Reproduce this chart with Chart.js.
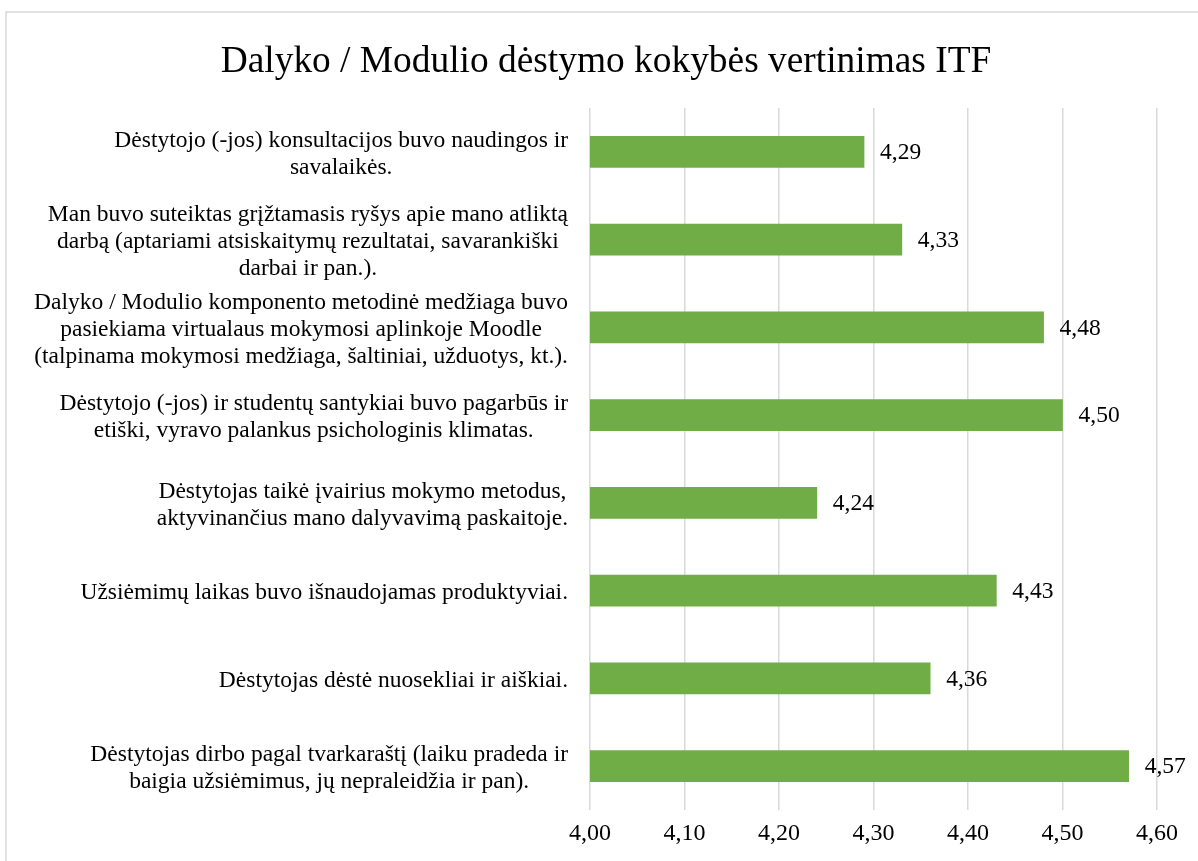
<!DOCTYPE html>
<html>
<head>
  <title>Dalyko / Modulio dėstymo kokybės vertinimas ITF</title>
  <style>
    html, body {
      margin: 0;
      padding: 0;
      background: #ffffff;
    }
    #chart-box {
      width: 1198px;
      height: 861px;
    }
  </style>
  <script src="https://cdn.jsdelivr.net/npm/chart.js"></script>
</head>
<body>
  <div id="chart-box"><canvas id="chart"></canvas></div>

  <script>
    // Klausimai (kategorijos), po eilutę kiekvienai teksto eilutei
    const klausimai = [
      ['Dėstytojo (-jos) konsultacijos buvo naudingos ir', 'savalaikės.'],
      ['Man buvo suteiktas grįžtamasis ryšys apie mano atliktą', 'darbą (aptariami atsiskaitymų rezultatai, savarankiški', 'darbai ir pan.).'],
      ['Dalyko / Modulio komponento metodinė medžiaga buvo', 'pasiekiama virtualaus mokymosi aplinkoje Moodle', '(talpinama mokymosi medžiaga, šaltiniai, užduotys, kt.).'],
      ['Dėstytojo (-jos) ir studentų santykiai buvo pagarbūs ir', 'etiški, vyravo palankus psichologinis klimatas.'],
      ['Dėstytojas taikė įvairius mokymo metodus,', 'aktyvinančius mano dalyvavimą paskaitoje.'],
      ['Užsiėmimų laikas buvo išnaudojamas produktyviai.'],
      ['Dėstytojas dėstė nuosekliai ir aiškiai.'],
      ['Dėstytojas dirbo pagal tvarkaraštį (laiku pradeda ir', 'baigia užsiėmimus, jų nepraleidžia ir pan).']
    ];
    const vertinimai = [4.29, 4.33, 4.48, 4.50, 4.24, 4.43, 4.36, 4.57];
    const asiesMin = 4.00;
    const asiesMax = 4.60;
    const asiesZingsnis = 0.10;
    const antraste = 'Dalyko / Modulio dėstymo kokybės vertinimas ITF';

    const serif = "'Liberation Serif', 'Times New Roman', serif";

    function kablelis(v) {
      return Number(v).toFixed(2).replace('.', ',');
    }

    // pilkas rėmelis ir antraštė
    const remelis = {
      id: 'remelis',
      beforeDraw(chart) {
        const ctx = chart.ctx;
        ctx.save();
        ctx.strokeStyle = '#d9d9d9';
        ctx.lineWidth = 1.5;
        ctx.strokeRect(6, 12, 1300, 1000);
        ctx.font = '37.4px ' + serif;
        ctx.fillStyle = '#000000';
        ctx.textAlign = 'center';
        ctx.textBaseline = 'middle';
        ctx.fillText(antraste, 606, 62);
        ctx.restore();
      }
    };

    // kategorijų pavadinimai: kiekviena eilutė centruota savo bloke
    const pavadinimai = {
      id: 'pavadinimai',
      afterDraw(chart) {
        const ctx = chart.ctx;
        const y = chart.scales.y;
        const right = chart.chartArea.left - 22;
        const lh = 27;
        ctx.save();
        ctx.font = '23.5px ' + serif;
        ctx.fillStyle = '#000000';
        ctx.textAlign = 'center';
        ctx.textBaseline = 'middle';
        chart.data.labels.forEach((eil, i) => {
          const cy = y.getPixelForTick(i);
          const maxW = Math.max(...eil.map(t => ctx.measureText(t).width));
          const cx = right - maxW / 2;
          eil.forEach((t, j) => {
            ctx.fillText(t, cx, cy + 2 + (j - (eil.length - 1) / 2) * lh);
          });
        });
        ctx.restore();
      }
    };

    // reikšmės šalia stulpelių
    const reiksmes = {
      id: 'reiksmes',
      afterDatasetsDraw(chart) {
        const ctx = chart.ctx;
        const meta = chart.getDatasetMeta(0);
        ctx.save();
        ctx.font = '23.5px ' + serif;
        ctx.fillStyle = '#000000';
        ctx.textAlign = 'left';
        ctx.textBaseline = 'middle';
        meta.data.forEach((bar, i) => {
          ctx.fillText(kablelis(chart.data.datasets[0].data[i]), bar.x + 16, bar.y + 1);
        });
        ctx.restore();
      }
    };

    document.addEventListener('DOMContentLoaded', function () {
      const ctx = document.getElementById('chart').getContext('2d');
      new Chart(ctx, {
        type: 'bar',
        data: {
          labels: klausimai,
          datasets: [{
            data: vertinimai,
            backgroundColor: '#70ad47',
            borderWidth: 0,
            barThickness: 31
          }]
        },
        options: {
          indexAxis: 'y',
          responsive: true,
          maintainAspectRatio: false,
          animation: false,
          layout: {
            padding: { left: 0, right: 41, top: 108, bottom: 0 }
          },
          plugins: {
            legend: { display: false },
            tooltip: { enabled: false },
            title: { display: false }
          },
          scales: {
            x: {
              min: asiesMin,
              max: asiesMax,
              ticks: {
                stepSize: asiesZingsnis,
                color: '#000000',
                font: { family: serif, size: 24 },
                padding: 9,
                callback: v => kablelis(v)
              },
              grid: {
                color: '#d9d9d9',
                lineWidth: 1.5,
                drawTicks: false
              },
              border: { display: false },
              afterFit(scale) { scale.height = 51; }
            },
            y: {
              ticks: { display: false },
              grid: { display: false },
              border: { display: false },
              afterFit(scale) { scale.width = 590; }
            }
          }
        },
        plugins: [remelis, pavadinimai, reiksmes]
      });
    });
  </script>
</body>
</html>
